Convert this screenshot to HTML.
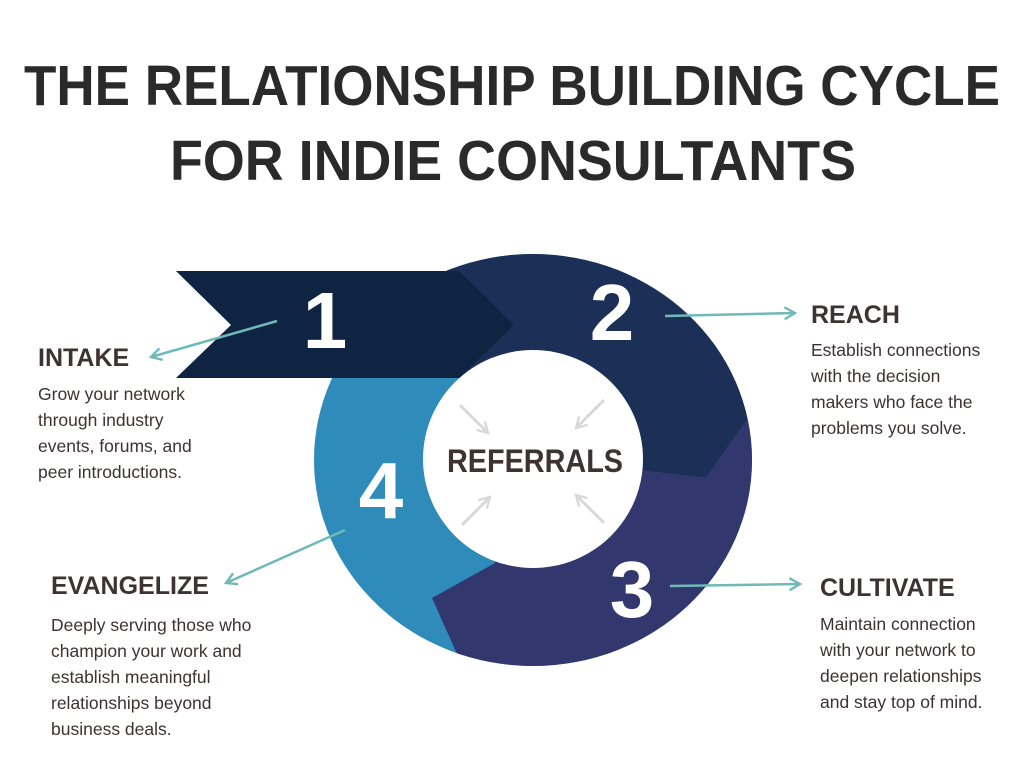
<!DOCTYPE html>
<html><head><meta charset="utf-8"><style>
html,body{margin:0;padding:0;background:#fff;}
svg{display:block;font-family:"Liberation Sans",sans-serif;}
</style></head><body>
<svg width="1024" height="768" viewBox="0 0 1024 768" xmlns="http://www.w3.org/2000/svg">
<defs>
<clipPath id="ring"><ellipse cx="533" cy="460" rx="219" ry="206"/></clipPath>
<marker id="ah" viewBox="0 0 10 10" refX="8" refY="5" markerWidth="6" markerHeight="6" orient="auto"><path d="M1,1 L8,5 L1,9" fill="none" stroke="#6fb9b8" stroke-width="1.6"/></marker>
<marker id="gh" viewBox="0 0 10 10" refX="8" refY="5" markerWidth="5" markerHeight="5" orient="auto"><path d="M1,1 L8,5 L1,9" fill="none" stroke="#d9d9d9" stroke-width="1.6"/></marker>
</defs>
<g font-weight="bold" fill="#2a2a2a" font-size="57">
<text x="24" y="105" textLength="976" lengthAdjust="spacingAndGlyphs">THE RELATIONSHIP BUILDING CYCLE</text>
<text x="170" y="180" textLength="686" lengthAdjust="spacingAndGlyphs">FOR INDIE CONSULTANTS</text>
</g>
<g clip-path="url(#ring)">
<rect x="300" y="240" width="470" height="440" fill="#2e8bba"/>
<polygon points="300,200 800,200 800,345 706,478 533,458 533,378 300,378" fill="#1c2f57"/>
<polygon points="706,478 800,345 800,800 480,800 462,665 432,598 495,563 533,458" fill="#32376e"/>
</g>
<ellipse cx="533" cy="459" rx="110" ry="109" fill="#fff"/>
<polygon points="176,271 459,271 514,325 459,378 176,378 231,325" fill="#0f2442"/>
<g fill="#fff" font-weight="bold" font-size="80" text-anchor="middle">
<text x="325" y="348">1</text>
<text x="612" y="340">2</text>
<text x="632" y="617">3</text>
<text x="381" y="518">4</text>
</g>
<text x="447" y="472" textLength="176" lengthAdjust="spacingAndGlyphs" font-weight="bold" font-size="32" fill="#3d3333">REFERRALS</text>
<g stroke="#d9d9d9" stroke-width="3" marker-end="url(#gh)">
<line x1="460" y1="405" x2="488" y2="433"/>
<line x1="604" y1="400" x2="576" y2="428"/>
<line x1="462" y1="525" x2="490" y2="497"/>
<line x1="604" y1="523" x2="576" y2="495"/>
</g>
<g stroke="#6fb9b8" stroke-width="2.5" marker-end="url(#ah)">
<line x1="277" y1="321" x2="151" y2="357"/>
<line x1="665" y1="316" x2="795" y2="313"/>
<line x1="670" y1="586" x2="800" y2="584"/>
<line x1="345" y1="530" x2="226" y2="583"/>
</g>
<g font-weight="bold" font-size="25" fill="#3d3333">
<text x="38" y="366">INTAKE</text>
<text x="811" y="323">REACH</text>
<text x="820" y="596">CULTIVATE</text>
<text x="51" y="594">EVANGELIZE</text>
</g>
<g font-size="17.5" fill="#3d3333">
<text x="38" y="400">Grow your network</text>
<text x="38" y="426">through industry</text>
<text x="38" y="452">events, forums, and</text>
<text x="38" y="478">peer introductions.</text>
<text x="811" y="356">Establish connections</text>
<text x="811" y="382">with the decision</text>
<text x="811" y="408">makers who face the</text>
<text x="811" y="434">problems you solve.</text>
<text x="820" y="630">Maintain connection</text>
<text x="820" y="656">with your network to</text>
<text x="820" y="682">deepen relationships</text>
<text x="820" y="708">and stay top of mind.</text>
<text x="51" y="631">Deeply serving those who</text>
<text x="51" y="657">champion your work and</text>
<text x="51" y="683">establish meaningful</text>
<text x="51" y="709">relationships beyond</text>
<text x="51" y="735">business deals.</text>
</g>
</svg>
</body></html>
